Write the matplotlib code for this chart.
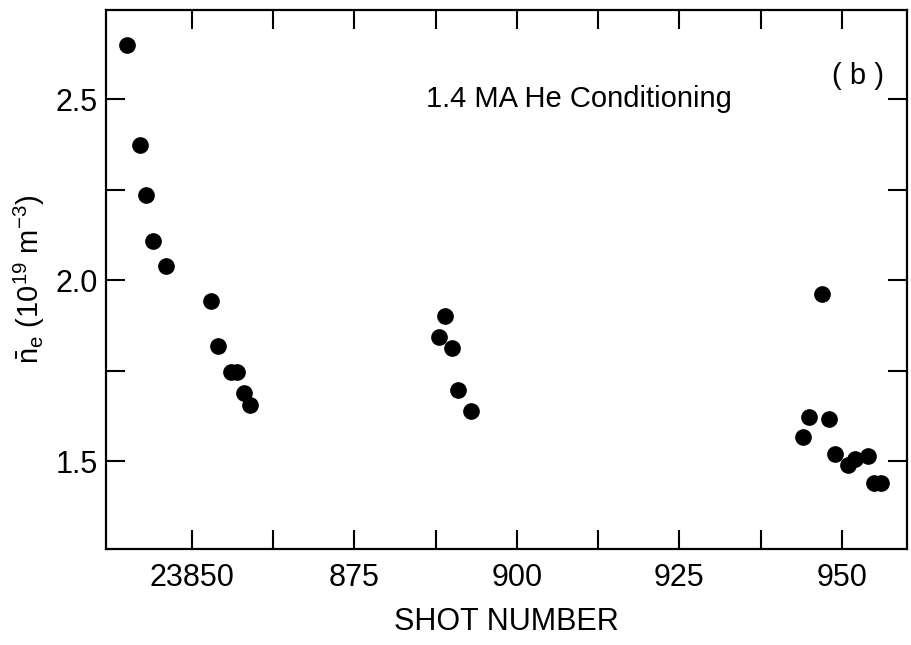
import matplotlib
matplotlib.use('Agg')
import matplotlib.pyplot as plt
import numpy as np

plt.rcParams['font.family'] = ['Liberation Sans', 'DejaVu Sans']
plt.rcParams['mathtext.fontset'] = 'custom'
plt.rcParams['mathtext.rm'] = 'Liberation Sans'
plt.rcParams['mathtext.it'] = 'Liberation Sans'

# shot number vs line-averaged density
shot = [23840, 23842, 23843, 23844, 23846, 23853, 23854, 23856, 23857, 23858, 23859,
        23888, 23889, 23890, 23891, 23893,
        23944, 23945, 23947, 23948, 23949, 23951, 23952, 23954, 23955, 23956]
ne = [2.65, 2.373, 2.236, 2.109, 2.039, 1.942, 1.819, 1.746, 1.746, 1.688, 1.656,
      1.842, 1.902, 1.811, 1.696, 1.638,
      1.566, 1.622, 1.962, 1.617, 1.52, 1.490, 1.506, 1.515, 1.44, 1.44]

xticks = [23850, 23862.5, 23875, 23887.5, 23900, 23912.5, 23925, 23937.5, 23950]
xlabels = ['23850', '', '875', '', '900', '', '925', '', '950']
yticks = [1.5, 1.75, 2.0, 2.25, 2.5]
ylabels = ['1.5', '', '2.0', '', '2.5']

fig = plt.figure(figsize=(9.12, 6.45), dpi=100)
ax = fig.add_axes([0.1162, 0.1488, 0.8783, 0.8357])
ax.plot(shot, ne, 'o', color='black', markersize=11)

ax.set_xlim(23836.8, 23960)
ax.set_ylim(1.257, 2.746)
ax.set_xticks(xticks)
ax.set_xticklabels(xlabels)
ax.set_yticks(yticks)
ax.set_yticklabels(ylabels)
ax.tick_params(direction='in', length=14, width=1.5, labelsize=22,
               top=True, right=True)
ax.tick_params(axis='x', pad=10)
ax.tick_params(axis='y', pad=6)
for s in ax.spines.values():
    s.set_linewidth(1.6)

ax.set_xlabel('SHOT NUMBER', fontsize=22, labelpad=10)
ax.set_ylabel(r'$\bar{\mathrm{n}}_\mathrm{e}$ (10$^{19}$ m$^{-3}$)', fontsize=21, labelpad=6)
ax.text(23886, 2.5, '1.4 MA He Conditioning', fontsize=21, va='center', ha='left')
ax.text(23948.5, 2.565, '( b )', fontsize=21, va='center', ha='left')

fig.savefig('out.png', dpi=100)
